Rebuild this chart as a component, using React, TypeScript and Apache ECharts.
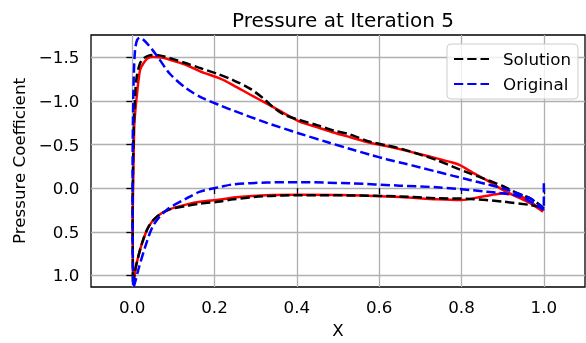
import React, { useEffect, useRef } from 'react';
import * as echarts from 'echarts';

// Current design (red, solid)
const currentX = [0.998, 0.97, 0.942, 0.90, 0.87, 0.845, 0.82, 0.796, 0.77, 0.74, 0.70, 0.659, 0.62, 0.578, 0.53, 0.489, 0.45, 0.408, 0.367, 0.327, 0.286, 0.246, 0.214, 0.165, 0.133, 0.10, 0.075, 0.052, 0.038, 0.027, 0.019, 0.011, 0.007, 0.005, 0.003, 0.0015, 0.0015, 0.003, 0.006, 0.011, 0.024, 0.04, 0.06, 0.092, 0.133, 0.165, 0.214, 0.246, 0.327, 0.408, 0.53, 0.65, 0.74, 0.80, 0.845, 0.87, 0.90, 0.93, 0.96, 0.998];
const currentCp = [0.27, 0.18, 0.114, 0.019, -0.07, -0.133, -0.2, -0.266, -0.305, -0.343, -0.39, -0.438, -0.48, -0.521, -0.585, -0.64, -0.7, -0.761, -0.865, -0.971, -1.075, -1.18, -1.257, -1.34, -1.41, -1.46, -1.495, -1.504, -1.49, -1.43, -1.352, -1.047, -0.85, -0.704, -0.2, 0.3, 0.75, 1.1, 1.0, 0.86, 0.63, 0.44, 0.325, 0.24, 0.185, 0.155, 0.13, 0.107, 0.08, 0.075, 0.08, 0.10, 0.126, 0.135, 0.10, 0.08, 0.06, 0.075, 0.13, 0.27];

// Solution (black, dashed)
const solutionX = [1.0, 0.99, 0.966, 0.93, 0.90, 0.86, 0.82, 0.78, 0.74, 0.70, 0.659, 0.62, 0.578, 0.529, 0.489, 0.449, 0.408, 0.367, 0.34, 0.319, 0.286, 0.246, 0.206, 0.165, 0.133, 0.10, 0.075, 0.055, 0.04, 0.028, 0.019, 0.011, 0.007, 0.004, 0.002, 0.001, 0.0015, 0.002, 0.005, 0.011, 0.024, 0.04, 0.06, 0.092, 0.133, 0.165, 0.214, 0.246, 0.327, 0.408, 0.529, 0.65, 0.74, 0.82, 0.90, 0.966, 1.0];
const solutionCp = [0.23, 0.19, 0.114, 0.045, -0.026, -0.1, -0.171, -0.245, -0.323, -0.385, -0.446, -0.49, -0.533, -0.617, -0.663, -0.724, -0.78, -0.849, -0.94, -1.029, -1.143, -1.238, -1.314, -1.378, -1.43, -1.48, -1.515, -1.528, -1.52, -1.49, -1.43, -1.275, -1.047, -0.704, -0.2, 0.3, 0.75, 1.105, 1.0, 0.857, 0.629, 0.439, 0.325, 0.24, 0.202, 0.175, 0.152, 0.126, 0.09, 0.08, 0.082, 0.094, 0.114, 0.122, 0.153, 0.191, 0.22];

// Original (blue, dashed)
const originalX = [1.0, 1.0, 0.994, 0.966, 0.93, 0.90, 0.86, 0.82, 0.78, 0.74, 0.70, 0.659, 0.62, 0.578, 0.53, 0.473, 0.408, 0.327, 0.246, 0.214, 0.173, 0.133, 0.092, 0.06, 0.04, 0.028, 0.019, 0.012, 0.007, 0.004, 0.002, 0.001, 0.001, 0.002, 0.003, 0.007, 0.015, 0.032, 0.052, 0.084, 0.133, 0.165, 0.214, 0.246, 0.327, 0.408, 0.529, 0.65, 0.74, 0.861, 0.942, 1.0];
const originalCp = [-0.057, 0.25, 0.21, 0.114, 0.05, 0.0, -0.048, -0.095, -0.142, -0.19, -0.238, -0.286, -0.33, -0.385, -0.45, -0.53, -0.625, -0.75, -0.89, -0.95, -1.03, -1.14, -1.31, -1.52, -1.64, -1.70, -1.726, -1.70, -1.58, -1.3, -0.8, -0.1, 0.5, 0.9, 1.14, 1.08, 0.934, 0.667, 0.42, 0.248, 0.114, 0.039, -0.015, -0.045, -0.066, -0.069, -0.057, -0.03, -0.011, 0.039, 0.096, 0.25];

const xTicks = [0, 0.2, 0.4, 0.6, 0.8, 1.0];
const yTicks = [-1.5, -1.0, -0.5, 0, 0.5, 1.0];

const FONT = 'DejaVu Sans';
const zip = (xs: number[], ys: number[]) => xs.map((x, i) => [x, ys[i]]);
const fmt = (v: number) => (v < -1e-9 ? '\u2212' : '') + Math.abs(v).toFixed(1);

export default function App() {
  const ref = useRef<HTMLDivElement>(null);
  useEffect(() => {
    const chart = echarts.init(ref.current!, null, { renderer: 'svg' });
    const dash = [9.25, 4];
    chart.setOption({
      animation: false,
      title: {
        text: 'Pressure at Iteration 5',
        left: 338,
        top: 5,
        textAlign: 'center',
        textStyle: { fontFamily: FONT, fontSize: 20, fontWeight: 'normal', color: '#000' },
      },
      legend: {
        data: ['Solution', 'Original'],
        orient: 'vertical',
        left: 447,
        top: 44,
        itemWidth: 35,
        itemHeight: 14,
        itemGap: 7,
        padding: [6, 7, 6, 6],
        borderColor: '#cccccc',
        borderWidth: 1,
        borderRadius: 4,
        backgroundColor: 'rgba(255,255,255,0.8)',
        itemStyle: { opacity: 0 },
        textStyle: { fontFamily: FONT, fontSize: 16.7, color: '#000', lineHeight: 18, padding: [0, 0, 0, 9] },
      },
      grid: { left: 91, right: 1, top: 35, bottom: 56, show: true, borderColor: '#000', borderWidth: 1.3, backgroundColor: 'transparent' },
      xAxis: {
        type: 'value',
        min: -0.1,
        max: 1.1,
        name: 'X',
        nameLocation: 'middle',
        nameGap: 34,
        nameTextStyle: { fontFamily: FONT, fontSize: 16.7, color: '#000' },
        axisLine: { show: false },
        axisTick: { show: true, inside: false, length: 5.8, lineStyle: { color: '#000', width: 1.3 }, customValues: xTicks },
        axisLabel: { customValues: xTicks, formatter: fmt, margin: 11.6, fontFamily: FONT, fontSize: 16.7, color: '#000' },
        splitLine: { show: true, lineStyle: { color: '#b0b0b0', width: 1.3 } },
      },
      yAxis: {
        type: 'value',
        inverse: true,
        min: -1.757,
        max: 1.132,
        name: 'Pressure Coefficient',
        nameLocation: 'middle',
        nameGap: 60,
        nameTextStyle: { fontFamily: FONT, fontSize: 16.7, color: '#000' },
        axisLine: { show: false },
        axisTick: { show: true, inside: false, length: 5.8, lineStyle: { color: '#000', width: 1.3 }, customValues: yTicks },
        axisLabel: { customValues: yTicks, formatter: fmt, margin: 11.6, fontFamily: FONT, fontSize: 16.7, color: '#000' },
        splitLine: { show: true, lineStyle: { color: '#b0b0b0', width: 1.3 } },
      },
      series: [
        {
          name: 'Current',
          type: 'line',
          data: zip(currentX, currentCp),
          symbol: 'none',
          smooth: 0.3,
          color: '#ff0000',
          lineStyle: { color: '#ff0000', width: 2.5 },
          clip: true,
        },
        {
          name: 'Solution',
          type: 'line',
          data: zip(solutionX, solutionCp),
          symbol: 'none',
          smooth: 0.3,
          color: '#000000',
          lineStyle: { color: '#000000', width: 2.5, type: dash },
          clip: true,
        },
        {
          name: 'Original',
          type: 'line',
          data: zip(originalX, originalCp),
          symbol: 'none',
          smooth: 0.3,
          color: '#0000ff',
          lineStyle: { color: '#0000ff', width: 2.5, type: dash },
          clip: true,
        },
      ],
    });
    return () => chart.dispose();
  }, []);
  return <div ref={ref} style={{ position: 'fixed', left: 0, top: 0, width: 586, height: 343 }} />;
}
